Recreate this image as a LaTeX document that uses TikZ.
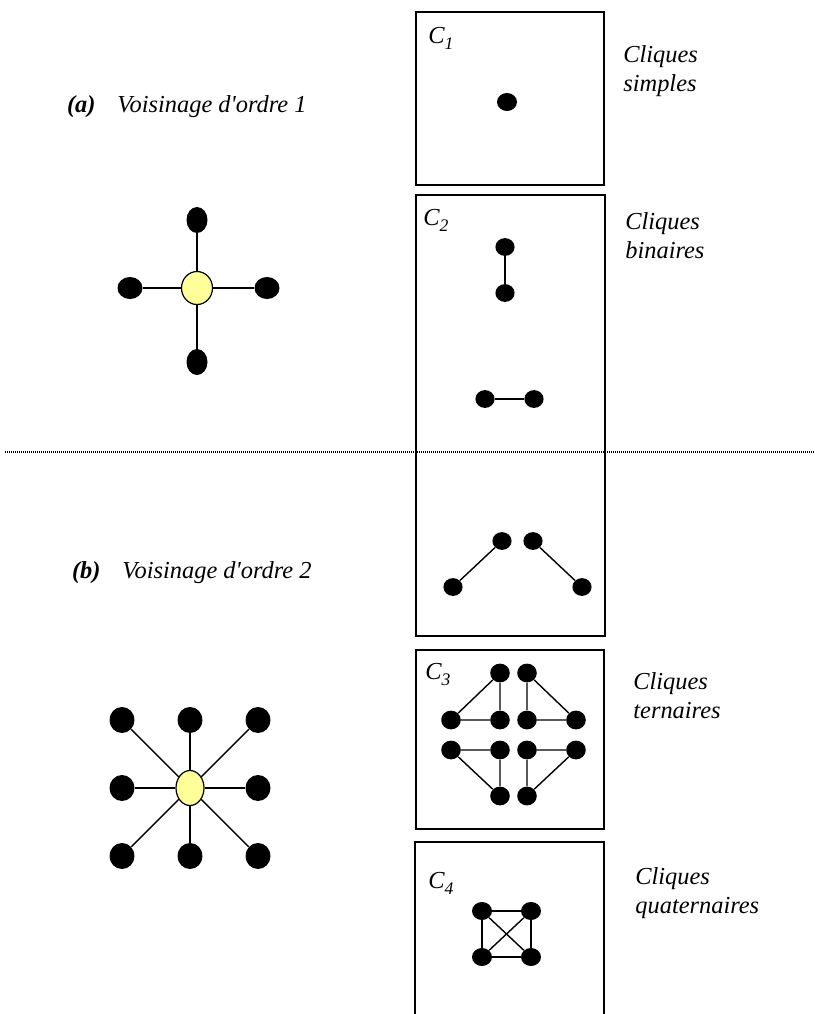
\documentclass[tikz,border=0pt]{standalone}
\usepackage{fontspec}
\setmainfont{Liberation Serif}
\usetikzlibrary{shapes.geometric}
\definecolor{hubyellow}{HTML}{FFFF99}
\newcommand\cliq[1]{C\raisebox{-0.28em}{\fontsize{8.8}{9}\selectfont #1}}
\begin{document}
\begin{tikzpicture}[x=0.5pt,y=-0.5pt,
  dot/.style={ellipse,fill=black,draw=none,inner sep=0pt,minimum width=9.6pt,minimum height=8.9pt},
  tdot/.style={ellipse,fill=black,draw=none,inner sep=0pt,minimum width=9.8pt,minimum height=9.4pt},
  bigdot/.style={ellipse,fill=black,draw=none,inner sep=0pt,minimum width=12.5pt,minimum height=13pt},
  hub/.style={ellipse,fill=hubyellow,draw=black,line width=0.6pt,inner sep=0pt},
  link/.style={draw=black,line width=0.7pt},
  frame/.style={draw=black,line width=0.75pt},
  sep/.style={draw=black,line width=0.6pt,dash pattern=on 0.5pt off 0.5pt},
  txt/.style={font=\fontsize{12.2}{14.5}\selectfont\itshape,inner sep=0pt,anchor=base west},
  head/.style={font=\fontsize{12.2}{14.5}\selectfont\itshape,inner sep=0pt,anchor=base east}
]
\useasboundingbox (0,0) rectangle (815,1014);

% separator between first and second order neighbourhoods
\coordinate (sepL) at (5,452);
\coordinate (sepR) at (815,452);
\draw[sep] (sepL) -- (sepR);

% clique frames
\draw[frame] (416,12) rectangle (604,185);
\draw[frame] (416,195) rectangle (605,636);
\draw[frame] (416,650) rectangle (604,829);
\draw[frame] (415,1016) -- (415,842) -- (604,842) -- (604,1016);

% frame labels
\node[txt] (l1) at (428,43) {\cliq{1}};
\node[txt] (l2) at (423,225) {\cliq{2}};
\node[txt] (l3) at (425,679) {\cliq{3}};
\node[txt] (l4) at (428,888) {\cliq{4}};

% side captions
\node[txt] (s1) at (623,62) {Cliques};
\node[txt] (s2) at (623,91) {simples};
\node[txt] (b1) at (625,229) {Cliques};
\node[txt] (b2) at (625,258) {binaires};
\node[txt] (t1) at (633,689) {Cliques};
\node[txt] (t2) at (633,718) {ternaires};
\node[txt] (q1) at (635,884) {Cliques};
\node[txt] (q2) at (635,913) {quaternaires};

% neighbourhood titles
\node[head] (ha) at (307,112) {\textbf{(a)}\hspace{0.9em}Voisinage d\textquotesingle ordre 1};
\node[head] (hb) at (312,578) {\textbf{(b)}\hspace{0.9em}Voisinage d\textquotesingle ordre 2};

% (a) first order neighbourhood
\node[hub,minimum width=15.5pt,minimum height=16.5pt] (ac) at (197,288) {};
\node[dot,minimum width=10.5pt,minimum height=13pt] (an) at (197,220) {};
\node[dot,minimum width=10.5pt,minimum height=13pt] (as) at (197,362) {};
\node[dot,minimum width=12.5pt,minimum height=11pt] (aw) at (130,288) {};
\node[dot,minimum width=12.5pt,minimum height=11pt] (ae) at (267,288) {};
\foreach \n in {an,as,aw,ae} \draw[link] (ac) -- (\n);

% (b) second order neighbourhood
\node[hub,minimum width=14pt,minimum height=17.5pt] (bc) at (190,788) {};
\node[bigdot] (bnw) at (122,720) {};
\node[bigdot] (bn)  at (190,720) {};
\node[bigdot] (bne) at (258,720) {};
\node[bigdot] (bw)  at (122,788) {};
\node[bigdot] (be)  at (258,788) {};
\node[bigdot] (bsw) at (122,856) {};
\node[bigdot] (bs)  at (190,856) {};
\node[bigdot] (bse) at (258,856) {};
\foreach \n in {bnw,bn,bne,bw,be,bsw,bs,bse} \draw[link] (bc) -- (\n);

% C1: single sites
\node[dot,minimum width=10pt,minimum height=9pt] (c1) at (507,102) {};

% C2: pair cliques
\node[dot] (v1) at (505,247) {};
\node[dot] (v2) at (505,293) {};
\draw[link] (v1) -- (v2);
\node[dot] (h1) at (485,399) {};
\node[dot] (h2) at (534,399) {};
\draw[link] (h1) -- (h2);
\node[dot] (d1) at (453,587) {};
\node[dot] (d2) at (502,541) {};
\draw[link] (d1) -- (d2);
\node[dot] (e1) at (533,541) {};
\node[dot] (e2) at (582,587) {};
\draw[link] (e1) -- (e2);

% C3: triangle cliques
\node[tdot] (ta1) at (500,673) {};
\node[tdot] (ta2) at (451,720) {};
\node[tdot] (ta3) at (500,720) {};
\draw[link] (ta1) -- (ta2) -- (ta3) -- (ta1);
\node[tdot] (tb1) at (527,673) {};
\node[tdot] (tb2) at (527,720) {};
\node[tdot] (tb3) at (576,720) {};
\draw[link] (tb1) -- (tb2) -- (tb3) -- (tb1);
\node[tdot] (tc1) at (451,750) {};
\node[tdot] (tc2) at (500,750) {};
\node[tdot] (tc3) at (500,796) {};
\draw[link] (tc1) -- (tc2) -- (tc3) -- (tc1);
\node[tdot] (td1) at (527,750) {};
\node[tdot] (td2) at (576,750) {};
\node[tdot] (td3) at (527,796) {};
\draw[link] (td1) -- (td2) -- (td3) -- (td1);

% C4: four-site clique
\node[dot,minimum width=10pt,minimum height=9pt] (qa) at (482,911) {};
\node[dot,minimum width=10pt,minimum height=9pt] (qb) at (531,911) {};
\node[dot,minimum width=10pt,minimum height=9pt] (qc) at (482,957) {};
\node[dot,minimum width=10pt,minimum height=9pt] (qd) at (531,957) {};
\draw[link] (qa) -- (qb) -- (qd) -- (qc) -- (qa);
\draw[link] (qa) -- (qd);
\draw[link] (qb) -- (qc);
\end{tikzpicture}
\end{document}
